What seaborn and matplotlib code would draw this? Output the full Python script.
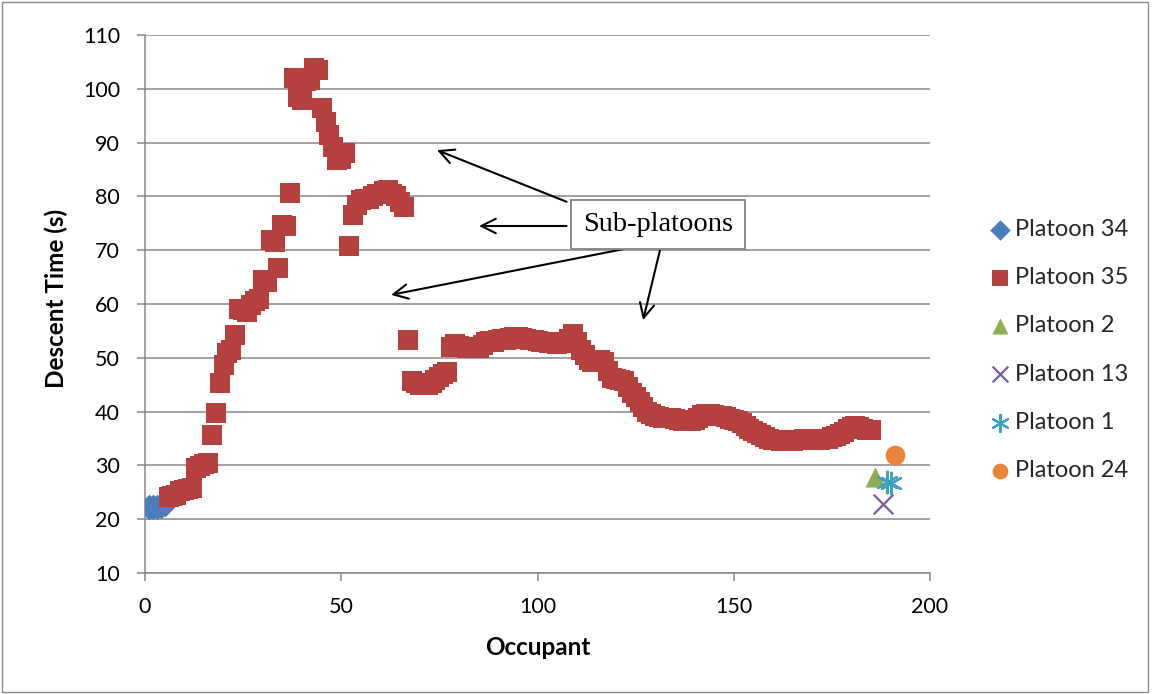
import matplotlib
matplotlib.use("Agg")
import matplotlib.pyplot as plt
from matplotlib.patches import Rectangle
import numpy as np
import pandas as pd
import seaborn as sns

# Descent times (s) by occupant order, one array per platoon
p34_occupant = [1, 2, 3, 4, 5]
p34_time = [22.3, 22.2, 22.3, 22.5, 22.8]

p35_occupant = list(range(6, 186))
p35_time = [
    24.2, 24.3, 24.5, 25.2, 25.5, 25.6, 25.8, 29.5, 29.8, 30.2,      # 6-15
    30.4, 35.6, 39.7, 45.3, 48.7, 50.9, 51.5, 54.2, 59.0, 58.9,      # 16-25
    58.5, 59.8, 60.5, 61.0, 64.5, 64.0, 71.9, 71.5, 66.7, 74.7,      # 26-35
    74.5, 80.6, 102.0, 98.5, 98.0, 101.5, 101.6, 103.8, 103.5, 96.4,  # 36-45
    93.9, 91.4, 89.2, 86.8, 87.0, 88.0, 70.7, 76.5, 78.4, 79.3,      # 46-55
    79.5, 79.5, 80.0, 80.5, 80.5, 81.0, 81.2, 80.5, 80.0, 79.0,      # 56-65
    78.1, 53.3, 45.6, 45.3, 45.0, 44.9, 45.0, 45.3, 45.9, 46.5,      # 66-75
    47.0, 47.4, 52.0, 52.5, 52.2, 52.0, 51.8, 52.0, 52.1, 51.8,      # 76-85
    52.4, 53.0, 53.2, 53.0, 53.3, 53.5, 53.4, 53.6, 53.8, 53.9,      # 86-95
    53.7, 53.5, 53.4, 53.4, 53.2, 53.0, 53.0, 52.8, 52.7, 52.6,      # 96-105
    52.8, 53.0, 53.5, 54.5, 53.0, 51.5, 50.5, 49.5, 49.3, 49.2,      # 106-115
    49.5, 49.3, 47.5, 46.3, 46.0, 45.8, 45.7, 44.5, 43.5, 42.8,      # 116-125
    41.8, 40.8, 40.0, 39.5, 39.2, 39.0, 38.9, 38.8, 38.8, 38.6,      # 126-135
    38.4, 38.3, 38.2, 38.3, 38.5, 38.9, 39.3, 39.5, 39.6, 39.4,      # 136-145
    39.2, 39.1, 39.0, 38.7, 38.5, 38.3, 37.8, 37.3, 36.8, 36.4,      # 146-155
    36.0, 35.6, 35.3, 35.0, 34.8, 34.7, 34.6, 34.5, 34.5, 34.6,      # 156-165
    34.7, 34.8, 34.9, 34.9, 34.9, 34.8, 34.8, 34.9, 35.0, 35.2,      # 166-175
    35.4, 35.8, 36.3, 36.8, 37.2, 37.3, 37.2, 36.8, 36.5, 36.5,      # 176-185
]

p2_occupant = [186]
p2_time = [27.9]
p13_occupant = [188]
p13_time = [22.8]
p1_occupant = [189, 190]
p1_time = [27.0, 26.8]
p24_occupant = [191]
p24_time = [31.9]

x_ticks = [0, 50, 100, 150, 200]
y_ticks = [10, 20, 30, 40, 50, 60, 70, 80, 90, 100, 110]

sns.set_theme(style="white")
plt.rcParams["font.family"] = ["Lato", "DejaVu Sans"]

fig = plt.figure(figsize=(11.52, 6.94), dpi=100)
ax = fig.add_axes([145 / 1152, 1 - 573 / 694, 785 / 1152, 538 / 694])

series = [
    ("Platoon 34", p34_occupant, p34_time, "#4A7EBB", "D", 170, None),
    ("Platoon 35", p35_occupant, p35_time, "#B5413E", "s", 210, None),
    ("Platoon 2", p2_occupant, p2_time, "#8FB052", "^", 210, None),
    ("Platoon 13", p13_occupant, p13_time, "#7A5C9E", "x", 200, 1.6),
    ("Platoon 1", p1_occupant, p1_time, "#3FA2BC", (6, 2, 0), 240, 1.6),
    ("Platoon 24", p24_occupant, p24_time, "#E8843A", "o", 200, None),
]

for name, xs, ys, color, marker, size, lw in series:
    df = pd.DataFrame({"Occupant": xs, "Descent Time (s)": ys})
    kw = dict(linewidth=lw) if lw is not None else dict(linewidth=0)
    sns.scatterplot(data=df, x="Occupant", y="Descent Time (s)", ax=ax,
                    color=color, marker=marker, s=size, label=name,
                    zorder=3, **kw)

ax.set_xlim(0, 200)
ax.set_ylim(10, 110)
ax.set_xticks(x_ticks)
ax.set_yticks(y_ticks)

grid_gray = "#878787"
ax.yaxis.grid(True, color=grid_gray, linewidth=1.1)
ax.xaxis.grid(False)
ax.set_axisbelow(True)
for side in ("top", "right"):
    ax.spines[side].set_visible(False)
for side in ("left", "bottom"):
    ax.spines[side].set_color(grid_gray)
    ax.spines[side].set_linewidth(1.1)

ax.tick_params(axis="y", direction="out", length=6, width=1.1, color=grid_gray,
               pad=12, labelsize=15.5, labelcolor="black", left=True)
ax.tick_params(axis="x", direction="out", length=5.5, width=1.1, color=grid_gray,
               pad=12, labelsize=15.5, labelcolor="black", bottom=True)

ax.set_xlabel("Occupant", fontsize=17.5, fontweight="bold", color="black",
              va="top")
ax.set_ylabel("Descent Time (s)", fontsize=17.5, fontweight="bold", color="black")
ax.xaxis.set_label_coords(0.5, -0.118)
ax.yaxis.set_label_coords(-0.098, 0.51)

# Callout box with arrows pointing at the sub-platoons
ax.text(130.7, 74.7, "Sub-platoons", ha="center", va="center", fontsize=20.5,
        family=["Liberation Serif", "DejaVu Serif"], color="black", zorder=5,
        bbox=dict(boxstyle="square,pad=0.42", facecolor="white",
                  edgecolor="#8a8a8a", linewidth=1.4))
arrows = [
    ((107.4, 79.0), (74.4, 88.6)),
    ((107.4, 74.5), (85.1, 74.5)),
    ((121.9, 70.2), (62.7, 61.7)),
    ((131.2, 70.0), (126.9, 57.0)),
]
for tail, tip in arrows:
    ax.annotate("", xy=tip, xytext=tail, zorder=4,
                arrowprops=dict(arrowstyle="->", color="black", lw=1.5,
                                mutation_scale=26, shrinkA=0, shrinkB=0))

leg = ax.legend(loc="center left", bbox_to_anchor=(987 / 1152, 1 - 350 / 694),
                bbox_transform=fig.transFigure, frameon=False, fontsize=17,
                labelspacing=1.15, handletextpad=0.1, handlelength=1.1,
                borderaxespad=0, borderpad=0, markerscale=0.8)

fig.patches.append(Rectangle((2 / 1152, 2 / 694), 1146 / 1152, 690 / 694,
                             transform=fig.transFigure, fill=False,
                             edgecolor="#8a8a8a", linewidth=1.0))

fig.savefig("out.png", dpi=100, facecolor="white")
